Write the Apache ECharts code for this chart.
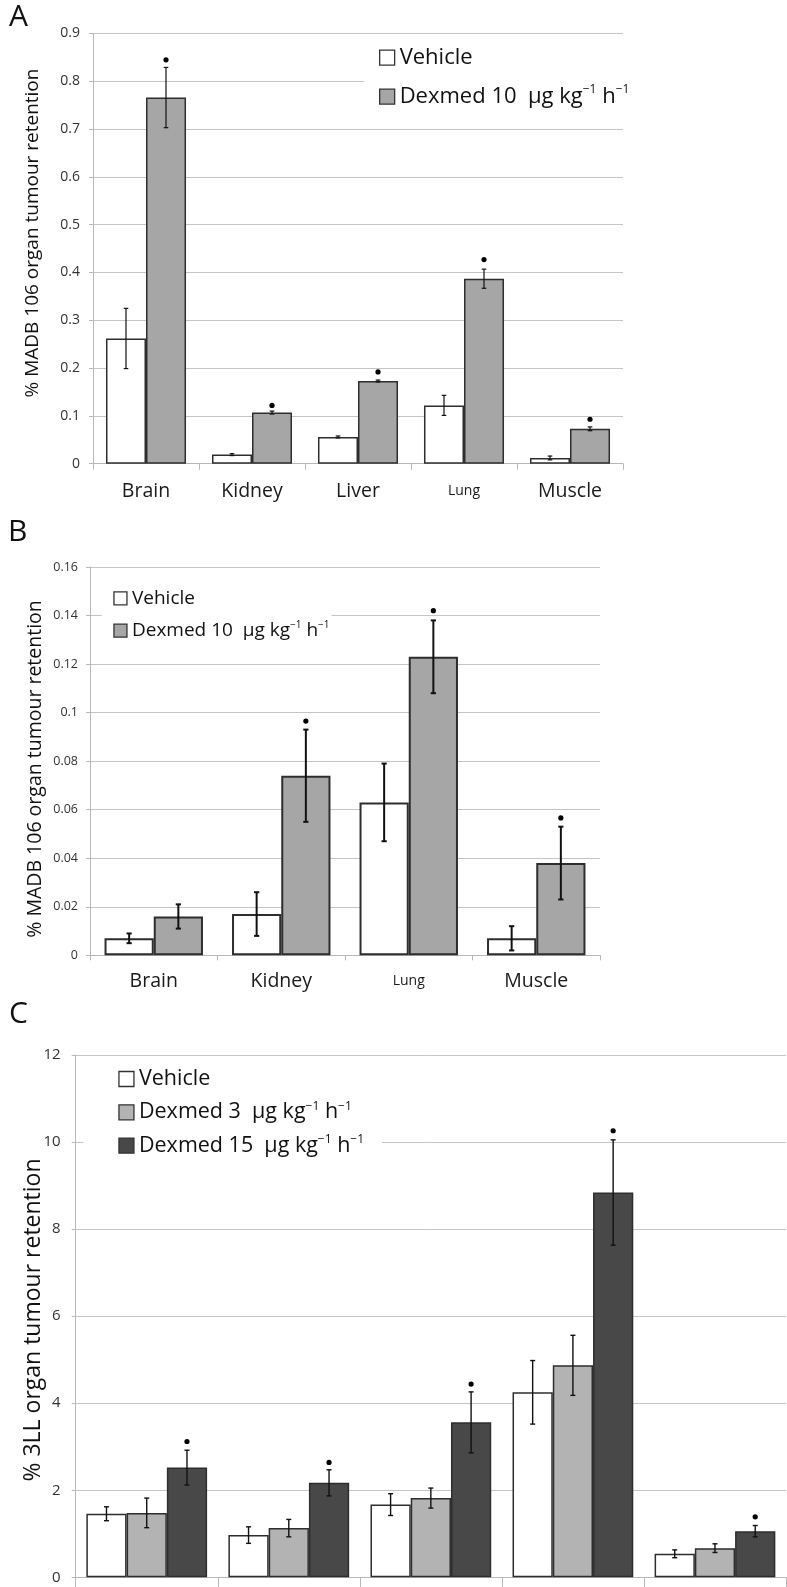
<!DOCTYPE html>
<html>
<head>
<meta charset="utf-8">
<script src="https://cdn.jsdelivr.net/npm/echarts@6/dist/echarts.min.js"></script>
<style>
html,body{margin:0;padding:0;background:#fff;}
#chart{width:787px;height:1587px;}
</style>
</head>
<body>
<div id="chart"></div>
<script>
// ---------- Data ----------
const categoriesA = ['Brain', 'Kidney', 'Liver', 'Lung', 'Muscle'];
const vehicleA    = [0.262, 0.019, 0.056, 0.122, 0.012];
const vehicleErrA = [0.063, 0.002, 0.002, 0.021, 0.004];
const dexmedA     = [0.766, 0.107, 0.173, 0.387, 0.073];
const dexmedErrA  = [0.063, 0.003, 0.002, 0.020, 0.004];
const dexmedSigA  = [0.845, 0.122, 0.192, 0.427, 0.093];
const ticksA = { max: 0.9, interval: 0.1 };

const categoriesB = ['Brain', 'Kidney', 'Lung', 'Muscle'];
const vehicleB    = [0.007, 0.017, 0.063, 0.007];
const vehicleErrB = [0.002, 0.009, 0.016, 0.005];
const dexmedB     = [0.016, 0.074, 0.123, 0.038];
const dexmedErrB  = [0.005, 0.019, 0.015, 0.015];
const dexmedSigB  = [null, 0.0965, 0.142, 0.0566];
const ticksB = { max: 0.16, interval: 0.02 };

const categoriesC = ['Brain', 'Kidney', 'Liver', 'Lung', 'Muscle'];
const vehicleC     = [1.46, 0.97, 1.67, 4.25, 0.54];
const vehicleErrC  = [0.16, 0.19, 0.25, 0.73, 0.09];
const dex3C        = [1.48, 1.13, 1.82, 4.87, 0.67];
const dex3ErrC     = [0.34, 0.20, 0.23, 0.69, 0.10];
const dex15C       = [2.52, 2.17, 3.56, 8.84, 1.06];
const dex15ErrC    = [0.40, 0.30, 0.70, 1.21, 0.13];
const dex15SigC    = [3.12, 2.64, 4.44, 10.26, 1.39];
const ticksC = { max: 12, interval: 2 };

const nameVeh   = 'Vehicle';
const nameDex10 = 'Dexmed 10  μg kg-1 h-1';
const nameDex3  = 'Dexmed 3  μg kg-1 h-1';
const nameDex15 = 'Dexmed 15  μg kg-1 h-1';
const yTitleAB = '% MADB 106 organ tumour retention';
const yTitleC  = '% 3LL organ tumour retention';

// ---------- Styles ----------
const FONT = '"Open Sans", "DejaVu Sans", sans-serif';
const GRID_COL = '#c4c4c4';
const AXIS_COL = '#b8b8b8';
const gapA = 0.245, gapB = 0.228, gapC = 0.15;

function errSeries(axis, vals, errs, sig, idx, n, gap, lw, cap) {
  return {
    type: 'custom', xAxisIndex: axis, yAxisIndex: axis, z: 6, silent: true,
    data: vals.map((v, i) => [i, v]),
    renderItem(params, api) {
      const i = params.dataIndex;
      const v = vals[i], e = errs[i];
      const c = api.coord([i, v]);
      const cw = api.size([1, 0])[0];
      const total = cw * (1 - gap);
      const bw = total / n;
      const x = c[0] - total / 2 + bw * (idx + 0.5);
      const y1 = api.coord([i, v + e])[1], y2 = api.coord([i, v - e])[1];
      const st = { stroke: '#111', lineWidth: lw };
      const ch = [
        { type: 'line', shape: { x1: x, y1: y1, x2: x, y2: y2 }, style: st },
        { type: 'line', shape: { x1: x - cap, y1: y1, x2: x + cap, y2: y1 }, style: st },
        { type: 'line', shape: { x1: x - cap, y1: y2, x2: x + cap, y2: y2 }, style: st }
      ];
      if (sig && sig[i] != null) {
        const ys = api.coord([i, sig[i]])[1];
        ch.push({ type: 'circle', shape: { cx: x, cy: ys, r: 2.6 }, style: { fill: '#000' } });
      }
      return { type: 'group', children: ch };
    }
  };
}

function barSeries(axis, name, data, color, gap, bw) {
  return {
    type: 'bar', name: name, xAxisIndex: axis, yAxisIndex: axis, data: data,
    barGap: '0%', barCategoryGap: (gap * 100) + '%',
    itemStyle: { color: color, borderColor: '#2e2e2e', borderWidth: bw },
    emphasis: { disabled: true }
  };
}

function xAx(grid, cats, showLabel, fs, margin, tickLen) {
  return {
    type: 'category', gridIndex: grid, data: cats,
    axisLine: { show: true, lineStyle: { color: AXIS_COL, width: 1 } },
    axisTick: { show: true, length: tickLen, lineStyle: { color: AXIS_COL } },
    axisLabel: {
      show: showLabel, margin: margin, fontFamily: FONT, fontSize: fs, color: '#1a1a1a', lineHeight: fs + 4,
      formatter: v => v === 'Lung' ? '{s|' + v + '}' : v,
      rich: { s: { fontSize: Math.round(fs * 0.74), fontFamily: FONT, color: '#1a1a1a' } }
    },
    splitLine: { show: false }
  };
}
function yAx(grid, t, fs, margin) {
  return {
    type: 'value', gridIndex: grid, min: 0, max: t.max, interval: t.interval,
    axisLine: { show: true, lineStyle: { color: AXIS_COL, width: 1 } },
    axisTick: { show: true, length: 4, lineStyle: { color: AXIS_COL } },
    axisLabel: { margin: margin, fontFamily: FONT, fontSize: fs, color: '#333' },
    splitLine: { show: true, lineStyle: { color: GRID_COL, width: 1 } }
  };
}

const legendFormatter = n => n.replace(/-1/g, '{s|−1}');
function legend(names, left, top, pad, gap, size, fs, lh) {
  return {
    data: names, orient: 'vertical', left: left, top: top, padding: pad,
    itemGap: gap, itemWidth: size, itemHeight: size, icon: 'rect',
    backgroundColor: '#fff', selectedMode: false,
    itemStyle: { borderColor: '#333', borderWidth: 1.3 },
    formatter: legendFormatter,
    textStyle: {
      fontFamily: FONT, fontSize: fs, lineHeight: lh, color: '#111',
      rich: { s: { fontSize: Math.round(fs * 0.55), fontFamily: FONT, color: '#111', verticalAlign: 'top', lineHeight: Math.round(fs * 0.7) } }
    }
  };
}

const option = {
  animation: false,
  backgroundColor: '#fff',
  title: [
    { text: 'A', left: 4, top: -3, textStyle: { fontFamily: FONT, fontSize: 30, fontWeight: 'normal', color: '#111' } },
    { text: 'B', left: 3, top: 512, textStyle: { fontFamily: FONT, fontSize: 30, fontWeight: 'normal', color: '#111' } },
    { text: 'C', left: 4, top: 994, textStyle: { fontFamily: FONT, fontSize: 30, fontWeight: 'normal', color: '#111' } }
  ],
  graphic: [
    { type: 'text', x: 33, y: 233, rotation: Math.PI / 2, style: { text: yTitleAB, fontFamily: FONT, fontSize: 19, fill: '#111', align: 'center', verticalAlign: 'middle' } },
    { type: 'text', x: 35, y: 769, rotation: Math.PI / 2, style: { text: yTitleAB, fontFamily: FONT, fontSize: 19.5, fill: '#111', align: 'center', verticalAlign: 'middle' } },
    { type: 'text', x: 33, y: 1320, rotation: Math.PI / 2, style: { text: yTitleC, fontFamily: FONT, fontSize: 23, fill: '#111', align: 'center', verticalAlign: 'middle' } }
  ],
  grid: [
    { left: 93, top: 33.5, width: 530, height: 430.2 },
    { left: 90, top: 567, width: 510, height: 388.3 },
    { left: 75.7, top: 1055, width: 710.3, height: 522.3 }
  ],
  xAxis: [
    xAx(0, categoriesA, true, 19.5, 16, 6),
    xAx(1, categoriesB, true, 19.5, 14, 5),
    xAx(2, categoriesC, false, 17, 15, 10)
  ],
  yAxis: [
    yAx(0, ticksA, 14, 13),
    yAx(1, ticksB, 12.5, 12),
    yAx(2, ticksC, 15, 15)
  ],
  legend: [
    legend([nameVeh, nameDex10], 364, 39.7, [5, 10, 10, 15], 13, 15, 22, 26),
    legend([nameVeh, nameDex10], 101.7, 577.3, [10, 2, 8, 11.6], 10.4, 13, 19, 22),
    legend([nameVeh, nameDex3, nameDex15], 83.3, 1062, [5, 18, 5, 35], 9.3, 15, 21.5, 24)
  ],
  series: [
    barSeries(0, nameVeh, vehicleA, '#ffffff', gapA, 1.5),
    barSeries(0, nameDex10, dexmedA, '#a6a6a6', gapA, 1.5),
    errSeries(0, vehicleA, vehicleErrA, null, 0, 2, gapA, 1.2, 2.3),
    errSeries(0, dexmedA, dexmedErrA, dexmedSigA, 1, 2, gapA, 1.2, 2.3),

    barSeries(1, nameVeh, vehicleB, '#ffffff', gapB, 2),
    barSeries(1, nameDex10, dexmedB, '#a6a6a6', gapB, 2),
    errSeries(1, vehicleB, vehicleErrB, null, 0, 2, gapB, 2, 2.6),
    errSeries(1, dexmedB, dexmedErrB, dexmedSigB, 1, 2, gapB, 2, 2.6),

    barSeries(2, nameVeh, vehicleC, '#ffffff', gapC, 1.5),
    barSeries(2, nameDex3, dex3C, '#b3b3b3', gapC, 1.5),
    barSeries(2, nameDex15, dex15C, '#484848', gapC, 1.5),
    errSeries(2, vehicleC, vehicleErrC, null, 0, 3, gapC, 1.4, 2.5),
    errSeries(2, dex3C, dex3ErrC, null, 1, 3, gapC, 1.4, 2.5),
    errSeries(2, dex15C, dex15ErrC, dex15SigC, 2, 3, gapC, 1.4, 2.5)
  ]
};

const chart = echarts.init(document.getElementById('chart'), null, { renderer: 'canvas' });
chart.setOption(option);
</script>
</body>
</html>
